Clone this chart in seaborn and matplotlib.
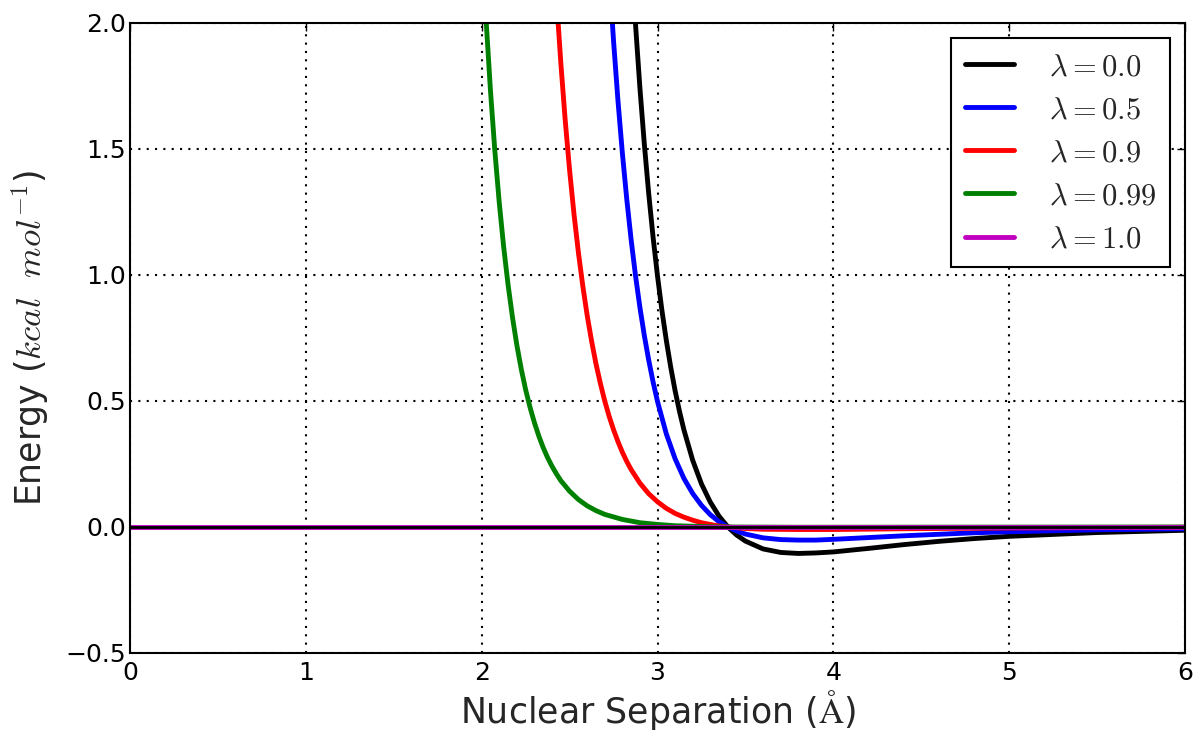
import matplotlib
matplotlib.use("Agg")
import matplotlib.pyplot as plt
import seaborn as sns
import pandas as pd

# Lennard-Jones style interaction energy (kcal/mol) vs. separation (Angstrom)
# for several coupling values lambda.
lambda_labels = [r"$\lambda{=}0.0$", r"$\lambda{=}0.5$", r"$\lambda{=}0.9$",
                 r"$\lambda{=}0.99$", r"$\lambda{=}1.0$"]
line_colors = ["black", "blue", "red", "green", "m"]

r_l00 = [2.85, 2.875, 2.9, 2.925, 2.95, 2.975, 3.0, 3.025, 3.05, 3.075, 3.1,
         3.125, 3.15, 3.2, 3.25, 3.3, 3.35, 3.4, 3.45, 3.5, 3.6, 3.7, 3.8,
         3.9, 4.0, 4.2, 4.4, 4.6, 4.8, 5.0, 5.5, 6.0]
e_l00 = [2.280, 1.994, 1.742, 1.520, 1.323, 1.149, 0.996, 0.860, 0.741, 0.635,
         0.541, 0.459, 0.386, 0.265, 0.171, 0.099, 0.043, 0.0, -0.032, -0.056,
         -0.087, -0.101, -0.105, -0.103, -0.099, -0.085, -0.070, -0.057,
         -0.046, -0.037, -0.022, -0.013]

r_l05 = [2.7, 2.725, 2.75, 2.775, 2.8, 2.825, 2.85, 2.875, 2.9, 2.925, 2.95,
         2.975, 3.0, 3.05, 3.1, 3.15, 3.2, 3.25, 3.3, 3.35, 3.4, 3.45, 3.5,
         3.6, 3.7, 3.8, 3.9, 4.0, 4.2, 4.4, 4.6, 4.8, 5.0, 5.5, 6.0]
e_l05 = [2.50, 2.197, 1.929, 1.693, 1.485, 1.302, 1.140, 0.997, 0.871, 0.760,
         0.662, 0.575, 0.498, 0.370, 0.271, 0.193, 0.133, 0.086, 0.049, 0.021,
         0.0, -0.016, -0.028, -0.043, -0.050, -0.052, -0.052, -0.049, -0.042,
         -0.035, -0.029, -0.023, -0.019, -0.011, -0.007]

r_l09 = [2.4, 2.425, 2.45, 2.475, 2.5, 2.525, 2.55, 2.575, 2.6, 2.625, 2.65,
         2.675, 2.7, 2.725, 2.75, 2.775, 2.8, 2.825, 2.85, 2.9, 2.95, 3.0,
         3.05, 3.1, 3.15, 3.2, 3.25, 3.3, 3.35, 3.4, 3.5, 3.6, 3.8, 4.0, 4.4,
         5.0, 6.0]
e_l09 = [2.405, 2.105, 1.843, 1.615, 1.416, 1.242, 1.090, 0.957, 0.840, 0.738,
         0.648, 0.570, 0.500, 0.439, 0.386, 0.339, 0.297, 0.260, 0.228, 0.174,
         0.132, 0.100, 0.074, 0.054, 0.039, 0.027, 0.017, 0.010, 0.004, 0.0,
         -0.006, -0.009, -0.010, -0.010, -0.007, -0.004, -0.001]

r_l099 = [2.0, 2.025, 2.05, 2.075, 2.1, 2.125, 2.15, 2.175, 2.2, 2.225, 2.25,
          2.275, 2.3, 2.325, 2.35, 2.375, 2.4, 2.425, 2.45, 2.5, 2.55, 2.6,
          2.65, 2.7, 2.8, 2.9, 3.0, 3.1, 3.2, 3.3, 3.4, 3.8, 6.0]
e_l099 = [2.346, 2.014, 1.732, 1.492, 1.287, 1.112, 0.962, 0.833, 0.722, 0.627,
          0.545, 0.475, 0.414, 0.361, 0.315, 0.275, 0.241, 0.211, 0.184, 0.142,
          0.109, 0.084, 0.065, 0.050, 0.030, 0.017, 0.010, 0.005, 0.003, 0.001,
          0.0, -0.001, 0.0]

r_l10 = [0.0, 6.0]
e_l10 = [0.0, 0.0]

x_ticks = [0, 1, 2, 3, 4, 5, 6]
y_ticks = [-0.5, 0.0, 0.5, 1.0, 1.5, 2.0]
y_tick_labels = ["\u22120.5", "0.0", "0.5", "1.0", "1.5", "2.0"]

sns.set_style("white")
plt.rcParams.update({
    "font.family": ["DejaVu Sans"],
    "mathtext.fontset": "cm",
    "xtick.direction": "in",
    "ytick.direction": "in",
    "xtick.top": True,
    "ytick.right": True,
    "xtick.major.size": 6,
    "ytick.major.size": 6,
    "xtick.major.width": 1.0,
    "ytick.major.width": 1.0,
    "xtick.color": "black",
    "ytick.color": "black",
    "axes.edgecolor": "black",
    "axes.linewidth": 1.5,
})

fig = plt.figure(figsize=(11.96, 7.30), dpi=100)
ax = fig.add_axes([0.1087, 0.1055, 0.8821, 0.863])

series = [(r_l00, e_l00), (r_l05, e_l05), (r_l09, e_l09),
          (r_l099, e_l099), (r_l10, e_l10)]
for (rr, ee), lab, col in zip(series, lambda_labels, line_colors):
    df = pd.DataFrame({"r": rr, "E": ee})
    sns.lineplot(data=df, x="r", y="E", ax=ax, color=col, linewidth=3.5,
                 label=lab, sort=False)

ax.axhline(0.0, color="black", linewidth=2, zorder=5)

ax.set_xlim(0, 6)
ax.set_ylim(-0.5, 2.0)
ax.set_xticks(x_ticks)
ax.set_yticks(y_ticks)
ax.set_xticklabels([str(t) for t in x_ticks])
ax.set_yticklabels(y_tick_labels)
ax.tick_params(axis="x", labelsize=18, pad=6)
ax.tick_params(axis="y", labelsize=18, pad=3)
ax.grid(True, color="black", linestyle=(0, (1, 3)), linewidth=1.5)

ax.set_xlabel(r"Nuclear Separation ($\mathrm{\AA}$)", fontsize=25, labelpad=2)
ax.set_ylabel(r"Energy ($kcal\ \ mol^{-1}$)", fontsize=25, labelpad=10)

leg = ax.legend(loc="upper right", fontsize=22, fancybox=False, framealpha=1,
                edgecolor="black", handlelength=1.6, handletextpad=1.15,
                borderpad=0.45, labelspacing=0.46)
leg.get_frame().set_linewidth(1.5)
for h in leg.get_lines():
    h.set_linewidth(3.5)

for s in ax.spines.values():
    s.set_visible(True)
    s.set_color("black")

fig.savefig("out.png", dpi=100)
